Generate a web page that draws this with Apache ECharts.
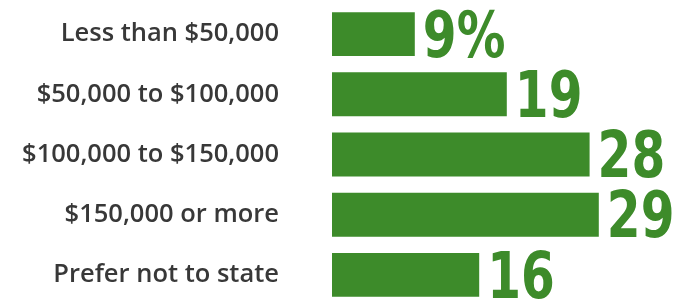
<!DOCTYPE html>
<html>
<head>
<meta charset="utf-8">
<script src="https://cdn.jsdelivr.net/npm/echarts@6/dist/echarts.min.js"></script>
<style>
  html, body { margin: 0; padding: 0; background: #fff; }
  #chart { width: 682px; height: 305px; }
</style>
</head>
<body>
<div id="chart"></div>
<script>
var categories = ["Less than $50,000", "$50,000 to $100,000", "$100,000 to $150,000", "$150,000 or more", "Prefer not to state"];
var values = [9, 19, 28, 29, 16];
var valueLabels = ["9%", "19", "28", "29", "16"];

var green = "#3d8b2a";
var myChart = echarts.init(document.getElementById("chart"));

// points for the big value labels: [value, category index]
var labelPoints = values.map(function (v, i) { return [v, i]; });

var option = {
    animation: false,
    grid: { left: 332, top: 4, width: 349.6, height: 303 },
    xAxis: {
        type: 'value',
        min: 0,
        max: 38,
        show: false
    },
    yAxis: {
        type: 'category',
        inverse: true,
        data: categories,
        axisLine: { show: false },
        axisTick: { show: false },
        axisLabel: {
            margin: 53,
            color: "#383838",
            fontFamily: "Open Sans",
            fontWeight: 600,
            fontSize: 25.5
        }
    },
    series: [{
        type: 'bar',
        data: values,
        barCategoryGap: '27%',
        itemStyle: { color: green }
    }, {
        // condensed value labels drawn next to the bar ends
        type: 'custom',
        data: labelPoints,
        encode: { x: 0, y: 1 },
        renderItem: function (params, api) {
            var end = api.coord([api.value(0), api.value(1)]);
            return {
                type: 'text',
                x: end[0] + 8,
                y: end[1] + 6,
                scaleX: 0.76,
                style: {
                    text: valueLabels[params.dataIndex],
                    fill: green,
                    font: 'bold 64px "DejaVu Sans"',
                    align: 'left',
                    verticalAlign: 'middle'
                }
            };
        }
    }]
};
myChart.setOption(option);
</script>
</body>
</html>
